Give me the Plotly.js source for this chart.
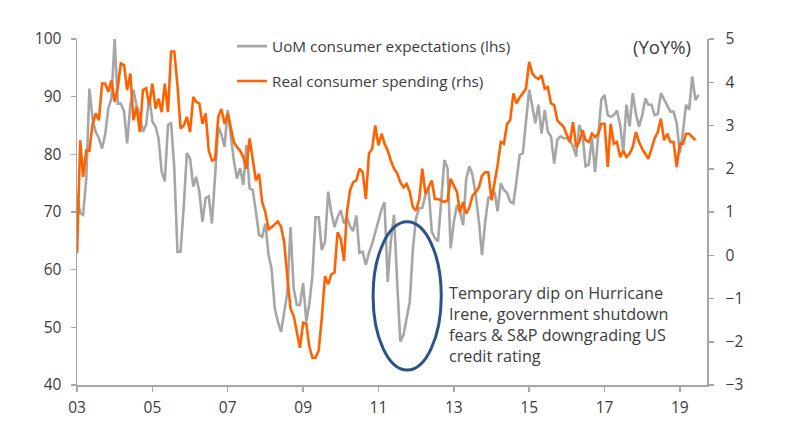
<!DOCTYPE html>
<html>
<head>
<meta charset="utf-8">
<script src="https://cdn.plot.ly/plotly-3.0.1.min.js"></script>
<style>html,body{margin:0;padding:0;background:#fff;}#chart{width:798px;height:425px;}</style>
</head>
<body>
<div id="chart"></div>
<script>
// Monthly observations starting January 2003
const startYear = 2003;
const startMonth = 1;

// UoM consumer expectations index (lhs)
const uomExpectations = [
  73, 69.8, 69.5, 75.8, 91.4, 86.2, 83.9, 82.8, 81, 83.4, 88, 89.7,
  100, 88.8, 88.8, 87.4, 81.9, 88.6, 91.2, 88.3, 86.8, 83.9, 85.1, 90,
  85.7, 84.8, 82.8, 77, 75.3, 85.1, 85.5, 77.6, 63.1, 63.1, 71, 80.2,
  79.3, 74.4, 76.1, 73.5, 68.3, 72.4, 72.7, 68.0, 76.4, 84.8, 83.4, 81.3,
  87.7, 82.8, 79.0, 75.8, 77.6, 74.7, 81.6, 74.1, 73.8, 70.1, 66.0, 65.7,
  68.0, 62.5, 60.2, 53.3, 51.0, 49.2, 52.4, 56, 67.4, 56.8, 53.9, 53.9,
  57.7, 51, 53.9, 59, 69.1, 69.1, 63.4, 64.8, 73.5, 70, 67.4, 69.1,
  70.3, 68, 69.1, 67.5, 66.7, 69.4, 62.9, 63.1, 60.8, 62.9, 64.5, 66.5,
  68.6, 70.5, 71.7, 57.9, 65, 69.5, 58, 47.5, 48.7, 51.6, 54.5, 63.7,
  69, 70.7, 70.7, 73, 74.1, 66.6, 65.5, 64.9, 72.4, 79, 77.6, 63.7,
  68.3, 71.2, 70, 67.7, 75.8, 77.9, 76.4, 73, 68.3, 62.5, 68.3, 72.4,
  72.7, 73.5, 70.1, 75, 73.8, 73.3, 71.8, 71.5, 75.5, 79.9, 80.2, 85.1,
  91.2, 88.3, 85.4, 88.6, 83.6, 87.7, 83.9, 83.1, 78.4, 82.5, 83.1, 82.8,
  82.8, 82.2, 81.5, 79.6, 85.1, 83.5, 77.9, 78.2, 82.8, 76.9, 83.4, 89.5,
  90.3, 86.8, 86.5, 86.8, 87.6, 85.1, 80.5, 88.6, 84.8, 90.6, 87, 84.8,
  86.8, 89.7, 88.6, 88.6, 86.8, 87, 90.6, 89.5, 88.3, 87.4, 87.4, 85.4,
  80.2, 84, 88.6, 87.7, 93.5, 89.4, 90.3
];

// Real consumer spending, YoY % (rhs)
const realSpending = [
  0.05, 2.66, 1.81, 2.42, 2.42, 3.04, 3.28, 3.12, 3.97, 3.97, 3.78, 4.05,
  3.55, 3.89, 4.44, 4.40, 3.82, 4.20, 3.12, 3.43, 2.85, 3.82, 3.86, 3.47,
  3.97, 3.39, 3.62, 3.31, 3.97, 3.31, 4.71, 4.71, 3.93, 2.93, 3.0, 3.2,
  2.85, 3.66, 3.55, 3.51, 3.04, 3.28, 2.42, 2.19, 2.22, 3.2, 3.38, 3.04,
  3.28, 2.97, 2.62, 2.50, 2.42, 2.27, 2.0, 2.70, 2.19, 1.73, 1.88, 1.23,
  0.99, 0.6, 0.65, 0.72, 0.78, 0.66, 0.3, -0.5, -1.24, -1.4, -1.79, -2.14,
  -1.56, -1.58, -2.1, -2.37, -2.37, -2.2, -1.44, -0.48, -0.67, -0.44, -0.4, 0.53,
  0.38, -0.13, 0.99, 1.5, 1.69, 1.73, 2.0, 1.92, 1.3, 2.35, 2.46, 3.0,
  2.54, 2.81, 2.58, 2.42, 2.19, 2.0, 1.9, 1.69, 1.57, 1.65, 1.46, 1.11,
  1.03, 1.3, 2.0, 1.42, 1.57, 1.73, 1.3, 1.3, 1.27, 1.23, 1.27, 1.77,
  1.61, 1.46, 0.99, 1.23, 0.96, 1.11, 1.38, 1.46, 1.57, 1.84, 1.92, 1.92,
  1.27, 1.7, 2.08, 2.62, 2.58, 3.04, 3.12, 3.74, 3.51, 3.65, 3.74, 3.85,
  4.47, 4.2, 4.12, 4.08, 4.16, 3.85, 3.89, 3.51, 3.47, 3.12, 3.04, 2.97,
  2.78, 2.62, 3.08, 2.5, 2.62, 2.89, 2.66, 2.62, 2.81, 2.73, 2.81, 3.04,
  3.04, 2.04, 3.04, 2.58, 2.62, 2.27, 2.42, 2.27, 2.35, 2.5, 2.85, 2.62,
  2.46, 2.35, 2.23, 2.46, 2.7, 2.85, 3.16, 2.66, 2.81, 2.62, 2.62, 2.04,
  2.58, 2.58, 2.81, 2.81, 2.73, 2.66
];

// Tick labels
const xTickVals = ['2003-01-01','2005-01-01','2007-01-01','2009-01-01','2011-01-01','2013-01-01','2015-01-01','2017-01-01','2019-01-01'];
const xTickText = ['03','05','07','09','11','13','15','17','19'];

const seriesNames = ['UoM consumer expectations (lhs)', 'Real consumer spending (rhs)'];
const annotationText = 'Temporary dip on Hurricane<br>Irene, government shutdown<br>fears &amp; S&amp;P downgrading US<br>credit rating';
const unitLabel = '(YoY%)';

function monthDates(n) {
  const out = [];
  for (let i = 0; i < n; i++) {
    const t = (startMonth - 1) + i;
    const y = startYear + Math.floor(t / 12);
    const m = (t % 12) + 1;
    out.push(y + '-' + String(m).padStart(2, '0') + '-01');
  }
  return out;
}

const FONT = '"Open Sans", "Noto Sans", sans-serif';
const AXIS = '#a6a6a6';
const TXT = '#3c3c3c';

const traces = [
  {
    x: monthDates(uomExpectations.length), y: uomExpectations,
    type: 'scatter', mode: 'lines', name: seriesNames[0],
    line: {color: '#a6a6a6', width: 2.6}, yaxis: 'y', legendgroup: 'a'
  },
  {
    x: monthDates(realSpending.length), y: realSpending,
    type: 'scatter', mode: 'lines', name: seriesNames[1],
    line: {color: '#ff6200', width: 2.6}, yaxis: 'y2', legendgroup: 'b'
  }
];

const tickFont = {family: FONT, size: 15.5, color: TXT};

const layout = {
  width: 798, height: 425,
  margin: {l: 77, r: 91, t: 39, b: 40},
  paper_bgcolor: '#fff', plot_bgcolor: '#fff',
  font: {family: FONT, size: 15, color: TXT},
  showlegend: true,
  legend: {
    x: 0.246, y: 1.027, xanchor: 'left', yanchor: 'top',
    traceorder: 'grouped', tracegroupgap: 12,
    bgcolor: 'rgba(0,0,0,0)', font: {family: FONT, size: 15.3, color: TXT}
  },
  xaxis: {
    type: 'date', range: ['2003-01-01', '2019-09-21'],
    tickvals: xTickVals, ticktext: xTickText,
    showline: true, linecolor: AXIS, linewidth: 1.5,
    ticks: 'outside', ticklen: 5, tickcolor: AXIS, tickwidth: 1.5,
    showgrid: false, zeroline: false, ticklabelstandoff: 3,
    tickfont: tickFont
  },
  yaxis: {
    range: [40, 100], dtick: 10, tick0: 40,
    showline: true, linecolor: AXIS, linewidth: 1.5,
    ticks: 'outside', ticklen: 5, tickcolor: AXIS, tickwidth: 1.5,
    showgrid: false, zeroline: false, ticklabelstandoff: 6,
    tickfont: tickFont
  },
  yaxis2: {
    range: [-3, 5], dtick: 1, tick0: -3,
    overlaying: 'y', side: 'right',
    showline: true, linecolor: AXIS, linewidth: 1.5,
    ticks: 'outside', ticklen: 5, tickcolor: AXIS, tickwidth: 1.5,
    showgrid: false, zeroline: false, ticklabelstandoff: 9,
    tickfont: tickFont
  },
  shapes: [{
    type: 'circle', xref: 'x', yref: 'y',
    x0: '2010-11-10', x1: '2012-09-01', y0: 42.6, y1: 68.3,
    line: {color: '#2d5386', width: 3}, fillcolor: 'rgba(0,0,0,0)'
  }],
  annotations: [
    {
      text: annotationText, xref: 'paper', yref: 'paper',
      x: 0.587, y: 0.176, xanchor: 'left', yanchor: 'middle', align: 'left',
      showarrow: false, font: {family: FONT, size: 16.2, color: TXT}
    },
    {
      text: unitLabel, xref: 'paper', yref: 'paper',
      x: 0.977, y: 0.977, xanchor: 'right', yanchor: 'middle',
      showarrow: false, font: {family: FONT, size: 18.5, color: TXT}
    }
  ]
};

Plotly.newPlot('chart', traces, layout, {displayModeBar: false, staticPlot: true});
</script>
</body>
</html>
